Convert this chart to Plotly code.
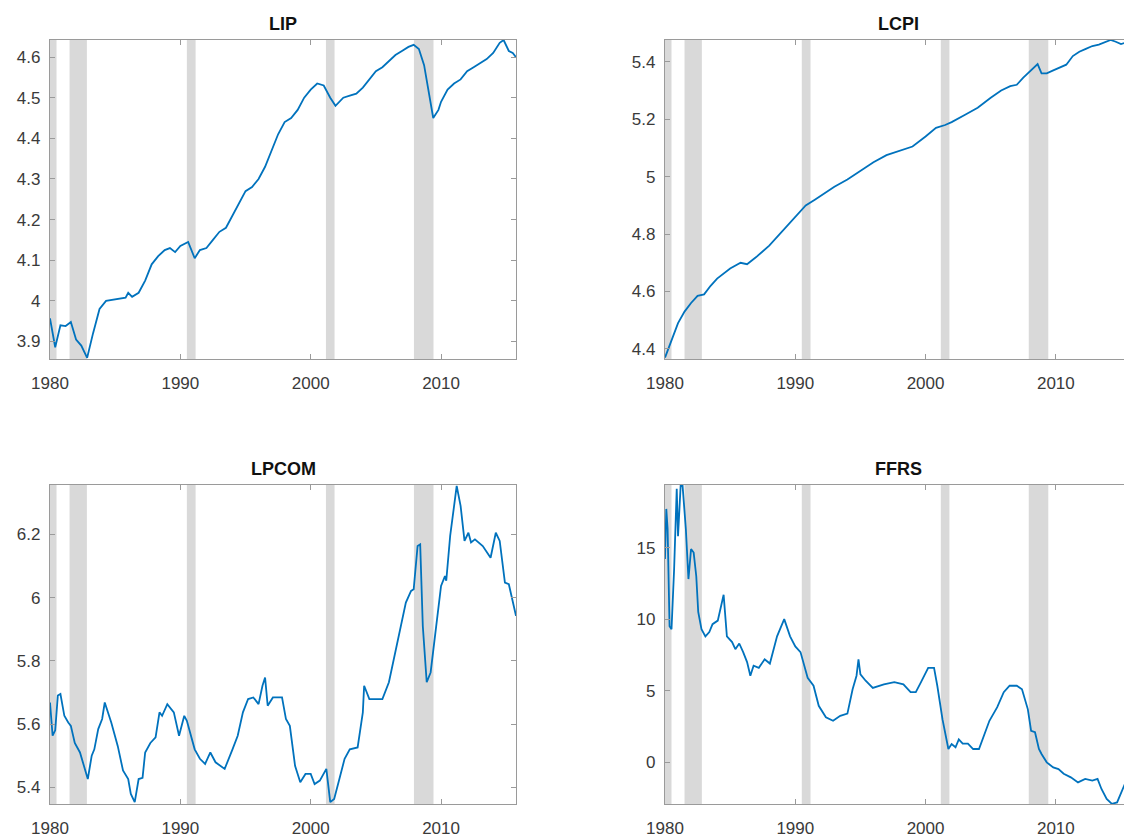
import plotly.graph_objects as go

W, H = 1124, 837

x_ticks = [1980, 1990, 2000, 2010]
recessions = [(1980.0, 1980.5), (1981.5, 1982.83), (1990.5, 1991.17),
              (2001.17, 2001.83), (2007.92, 2009.42)]

# ---------------- LIP ----------------
lip_t = [1980.0, 1980.4, 1980.8, 1981.2, 1981.6, 1982.0, 1982.4, 1982.85, 1983.3, 1983.8,
         1984.3, 1984.8, 1985.3, 1985.8, 1986.0, 1986.3, 1986.8, 1987.3, 1987.8, 1988.3,
         1988.8, 1989.2, 1989.6, 1990.0, 1990.6, 1991.1, 1991.5, 1992.0, 1992.5, 1993.0,
         1993.5, 1994.0, 1994.5, 1995.0, 1995.5, 1996.0, 1996.5, 1997.0, 1997.5, 1998.0,
         1998.5, 1999.0, 1999.5, 2000.0, 2000.5, 2001.0, 2001.5, 2001.9, 2002.5, 2003.0,
         2003.5, 2004.0, 2004.5, 2005.0, 2005.5, 2006.0, 2006.5, 2007.0, 2007.5, 2007.9,
         2008.3, 2008.7, 2009.0, 2009.4, 2009.8, 2010.0, 2010.5, 2011.0, 2011.5, 2012.0,
         2012.5, 2013.0, 2013.5, 2014.0, 2014.5, 2014.8, 2015.2, 2015.5, 2015.75]
lip_v = [3.957, 3.886, 3.940, 3.938, 3.948, 3.905, 3.890, 3.860, 3.920, 3.980,
         4.000, 4.003, 4.005, 4.008, 4.020, 4.010, 4.020, 4.050, 4.090, 4.110,
         4.125, 4.130, 4.120, 4.135, 4.145, 4.105, 4.125, 4.130, 4.150, 4.170,
         4.180, 4.210, 4.240, 4.270, 4.280, 4.300, 4.330, 4.370, 4.410, 4.440,
         4.450, 4.470, 4.500, 4.520, 4.535, 4.530, 4.500, 4.480, 4.500, 4.505,
         4.510, 4.525, 4.545, 4.565, 4.575, 4.590, 4.605, 4.615, 4.625, 4.630,
         4.620, 4.580, 4.520, 4.450, 4.470, 4.490, 4.520, 4.535, 4.545, 4.565,
         4.575, 4.585, 4.595, 4.610, 4.635, 4.642, 4.615, 4.610, 4.600]

# ---------------- LCPI ----------------
lcpi_t = [1980.0, 1980.5, 1981.0, 1981.5, 1982.0, 1982.5, 1983.0, 1983.5, 1984.0, 1985.0,
          1985.8, 1986.3, 1987.0, 1988.0, 1989.0, 1990.0, 1990.8, 1991.5, 1992.0, 1993.0,
          1994.0, 1995.0, 1996.0, 1997.0, 1998.0, 1999.0, 2000.0, 2000.8, 2001.5, 2002.0,
          2003.0, 2004.0, 2005.0, 2005.8, 2006.5, 2007.0, 2007.5, 2008.3, 2008.6, 2008.9,
          2009.3, 2009.8, 2010.3, 2010.8, 2011.3, 2011.8, 2012.3, 2012.8, 2013.3, 2013.8,
          2014.2, 2014.6, 2015.0, 2015.3]
lcpi_v = [4.370, 4.430, 4.490, 4.530, 4.560, 4.585, 4.590, 4.620, 4.645, 4.680,
          4.700, 4.695, 4.720, 4.760, 4.810, 4.860, 4.900, 4.920, 4.935, 4.965,
          4.990, 5.020, 5.050, 5.075, 5.090, 5.105, 5.140, 5.170, 5.180, 5.190,
          5.215, 5.240, 5.275, 5.300, 5.315, 5.320, 5.345, 5.380, 5.392, 5.360,
          5.360, 5.370, 5.380, 5.390, 5.420, 5.435, 5.445, 5.455, 5.460, 5.470,
          5.476, 5.470, 5.462, 5.466]

# ---------------- LPCOM ----------------
lpcom_t = [1980.0, 1980.2, 1980.4, 1980.6, 1980.8, 1981.1, 1981.4, 1981.6, 1981.9, 1982.3,
           1982.9, 1983.2, 1983.4, 1983.7, 1984.0, 1984.2, 1984.7, 1985.2, 1985.6, 1986.0,
           1986.2, 1986.5, 1986.8, 1987.1, 1987.3, 1987.7, 1988.1, 1988.4, 1988.6, 1989.0,
           1989.5, 1989.9, 1990.3, 1990.5, 1991.1, 1991.5, 1991.9, 1992.3, 1992.7, 1993.4,
           1994.0, 1994.4, 1994.8, 1995.2, 1995.6, 1996.0, 1996.3, 1996.5, 1996.7, 1997.1,
           1997.8, 1998.1, 1998.4, 1998.8, 1999.2, 1999.6, 2000.0, 2000.3, 2000.7, 2001.2,
           2001.5, 2001.8, 2002.2, 2002.6, 2003.0, 2003.6, 2004.0, 2004.1, 2004.5, 2005.5,
           2006.0, 2006.6, 2007.3, 2007.7, 2007.9, 2008.2, 2008.4, 2008.6, 2008.9, 2009.2,
           2009.6, 2010.0, 2010.3, 2010.4, 2010.7, 2011.2, 2011.5, 2011.8, 2012.1, 2012.3,
           2012.6, 2013.2, 2013.8, 2014.2, 2014.5, 2014.9, 2015.2, 2015.6, 2015.75]
lpcom_v = [5.668, 5.563, 5.580, 5.690, 5.695, 5.626, 5.605, 5.594, 5.540, 5.510,
           5.426, 5.500, 5.520, 5.584, 5.616, 5.668, 5.605, 5.530, 5.453, 5.426,
           5.379, 5.353, 5.426, 5.430, 5.510, 5.540, 5.558, 5.637, 5.626, 5.663,
           5.637, 5.563, 5.626, 5.610, 5.520, 5.490, 5.474, 5.510, 5.479, 5.458,
           5.520, 5.563, 5.637, 5.679, 5.684, 5.663, 5.721, 5.747, 5.658, 5.684,
           5.684, 5.616, 5.594, 5.468, 5.416, 5.442, 5.442, 5.410, 5.421, 5.458,
           5.353, 5.363, 5.426, 5.490, 5.520, 5.526, 5.637, 5.721, 5.679, 5.679,
           5.732, 5.847, 5.984, 6.021, 6.026, 6.163, 6.168, 5.910, 5.732, 5.763,
           5.910, 6.037, 6.068, 6.053, 6.195, 6.353, 6.290, 6.179, 6.205, 6.174,
           6.184, 6.163, 6.126, 6.205, 6.179, 6.047, 6.042, 5.963, 5.942]

# ---------------- FFRS ----------------
ffrs_t = [1980.0, 1980.1, 1980.2, 1980.35, 1980.5, 1980.7, 1980.9, 1981.0, 1981.2, 1981.35,
          1981.6, 1981.8, 1982.0, 1982.2, 1982.4, 1982.55, 1982.8, 1983.1, 1983.4, 1983.65,
          1984.05, 1984.3, 1984.5, 1984.75, 1985.15, 1985.4, 1985.7, 1986.0, 1986.3, 1986.55,
          1986.8, 1987.2, 1987.65, 1988.05, 1988.6, 1989.15, 1989.6, 1990.0, 1990.4, 1990.95,
          1991.4, 1991.8, 1992.35, 1992.9, 1993.45, 1994.0, 1994.4, 1994.7, 1994.85, 1995.0,
          1995.4, 1995.95, 1996.8, 1997.6, 1998.3, 1998.85, 1999.25, 1999.65, 2000.2, 2000.65,
          2000.9, 2001.3, 2001.75, 2002.0, 2002.3, 2002.55, 2002.85, 2003.25, 2003.65, 2004.1,
          2004.5, 2004.9, 2005.5, 2006.0, 2006.45, 2007.0, 2007.4, 2007.85, 2008.1, 2008.4,
          2008.7, 2008.9, 2009.3, 2009.8, 2010.2, 2010.6, 2011.15, 2011.7, 2012.25, 2012.8,
          2013.2, 2013.5, 2013.9, 2014.3, 2014.7, 2015.0, 2015.3]
ffrs_v = [14.2, 17.7, 16.3, 9.5, 9.3, 13.5, 19.1, 15.8, 19.3, 19.3,
          16.3, 12.8, 14.9, 14.65, 13.0, 10.5, 9.3, 8.8, 9.1, 9.65,
          9.9, 10.9, 11.7, 8.8, 8.4, 7.9, 8.3, 7.7, 7.0, 6.05,
          6.75, 6.6, 7.2, 6.9, 8.8, 10.0, 8.8, 8.1, 7.7, 5.9,
          5.35, 3.95, 3.15, 2.9, 3.25, 3.4, 5.1, 6.05, 7.2, 6.15,
          5.7, 5.2, 5.45, 5.6, 5.45, 4.9, 4.9, 5.6, 6.6, 6.6,
          5.35, 3.0, 0.93, 1.28, 1.05, 1.6, 1.3, 1.3, 0.93, 0.93,
          1.85, 2.9, 3.85, 4.9, 5.35, 5.35, 5.1, 3.7, 2.2, 2.1,
          0.93, 0.58, 0.0, -0.35, -0.47, -0.8, -1.05, -1.4, -1.16, -1.28,
          -1.16, -1.86, -2.56, -2.9, -2.8, -2.1, -1.5]

panels = [
    dict(title="LIP", t=lip_t, v=lip_v, xr=[1980, 2015.75], yr=[3.857, 4.642],
         yt=[3.9, 4.0, 4.1, 4.2, 4.3, 4.4, 4.5, 4.6],
         ytt=["3.9", "4", "4.1", "4.2", "4.3", "4.4", "4.5", "4.6"],
         px=(50, 516), py=(40, 359), full=True, cx=283),
    dict(title="LCPI", t=lcpi_t, v=lcpi_v, xr=[1980, 2015.23], yr=[4.365, 5.476],
         yt=[4.4, 4.6, 4.8, 5.0, 5.2, 5.4],
         ytt=["4.4", "4.6", "4.8", "5", "5.2", "5.4"],
         px=(665, 1124), py=(40, 359), full=False, cx=898),
    dict(title="LPCOM", t=lpcom_t, v=lpcom_v, xr=[1980, 2015.75], yr=[5.347, 6.356],
         yt=[5.4, 5.6, 5.8, 6.0, 6.2],
         ytt=["5.4", "5.6", "5.8", "6", "6.2"],
         px=(50, 516), py=(485, 804), full=True, cx=283),
    dict(title="FFRS", t=ffrs_t, v=ffrs_v, xr=[1980, 2015.23], yr=[-2.91, 19.37],
         yt=[0, 5, 10, 15], ytt=["0", "5", "10", "15"],
         px=(665, 1124), py=(485, 804), full=False, cx=898),
]

LINE = "#0072BD"
AX = "#9a9a9a"
TXT = "#3a3a3a"
FONT = "Liberation Sans, Arial, Helvetica, sans-serif"

fig = go.Figure()
layout = dict(width=W, height=H, margin=dict(l=0, r=0, t=0, b=0, autoexpand=False),
              paper_bgcolor="white", plot_bgcolor="white", showlegend=False,
              font=dict(family=FONT, size=17, color=TXT))
shapes = []
annotations = []

for i, p in enumerate(panels, start=1):
    xa = "xaxis" if i == 1 else f"xaxis{i}"
    ya = "yaxis" if i == 1 else f"yaxis{i}"
    xr_ = "x" if i == 1 else f"x{i}"
    yr_ = "y" if i == 1 else f"y{i}"
    layout[xa] = dict(domain=[p["px"][0] / W, p["px"][1] / W], range=p["xr"],
                      anchor=yr_, tickvals=x_ticks, ticktext=[str(v) for v in x_ticks],
                      ticks="inside", ticklen=5, tickwidth=1, tickcolor=AX,
                      showline=True, linecolor=AX, linewidth=1.3, mirror="ticks",
                      showgrid=False, zeroline=False, ticklabelstandoff=8,
                      automargin=False,
                      tickfont=dict(family=FONT, size=17, color=TXT))
    layout[ya] = dict(domain=[1 - p["py"][1] / H, 1 - p["py"][0] / H], range=p["yr"],
                      anchor=xr_, tickvals=p["yt"], ticktext=p["ytt"],
                      ticks="inside", ticklen=5, tickwidth=1, tickcolor=AX,
                      showline=True, linecolor=AX, linewidth=1.3,
                      mirror="ticks" if p["full"] else False,
                      showgrid=False, zeroline=False, ticklabelstandoff=5,
                      automargin=False,
                      tickfont=dict(family=FONT, size=17, color=TXT))
    for (a, b) in recessions:
        shapes.append(dict(type="rect", xref=xr_, yref=f"{yr_} domain", x0=a, x1=b,
                           y0=0, y1=1, fillcolor="#d9d9d9", line=dict(width=0),
                           layer="below"))
    fig.add_trace(go.Scatter(x=p["t"], y=p["v"], mode="lines", xaxis=xr_, yaxis=yr_,
                             line=dict(color=LINE, width=1.8), hoverinfo="skip"))
    annotations.append(dict(text=f"<b>{p['title']}</b>", xref="paper", yref="paper",
                            x=p["cx"] / W, y=1 - p["py"][0] / H, xanchor="center",
                            yanchor="bottom", yshift=4, showarrow=False,
                            font=dict(family=FONT, size=18, color="#111111")))

layout["shapes"] = shapes
layout["annotations"] = annotations
fig.update_layout(**layout)
fig.write_html("out.html")
